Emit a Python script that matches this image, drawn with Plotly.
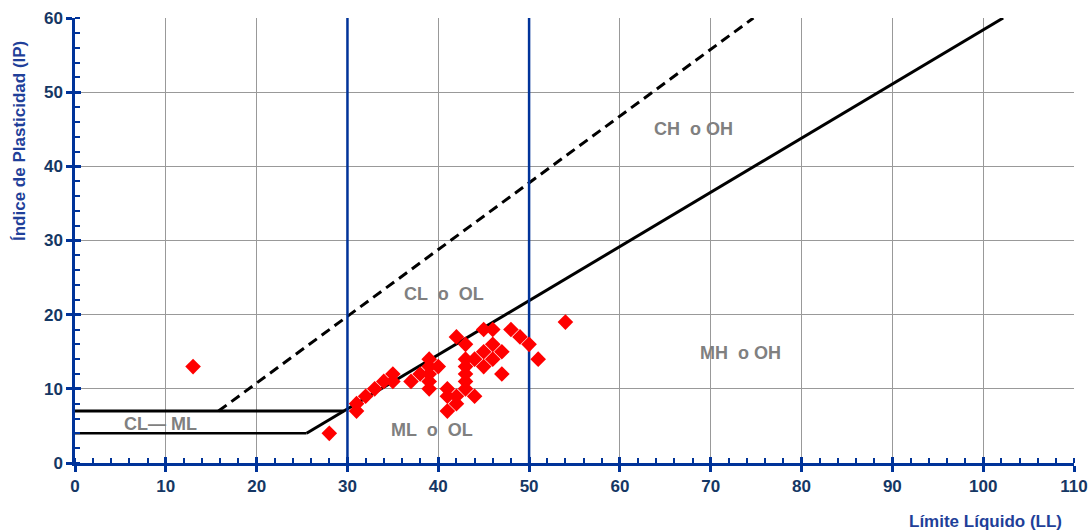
import plotly.graph_objects as go

# Sample data (Límite Líquido, Índice de Plasticidad)
LL = [13, 28, 31, 31, 32, 33, 34, 35, 35, 37, 38, 39, 39, 39, 39, 39, 40, 41, 41, 41,
      42, 42, 42, 43, 43, 43, 43, 43, 43, 44, 44, 45, 45, 45, 46, 46, 46, 47, 47, 48,
      49, 50, 51, 54]
IP = [13, 4, 8, 7, 9, 10, 11, 12, 11, 11, 12, 14, 13, 12, 11, 10, 13, 10, 9, 7,
      17, 9, 8, 16, 14, 13, 12, 11, 10, 14, 9, 18, 15, 13, 18, 16, 14, 15, 12, 18,
      17, 16, 14, 19]

# Reference lines of the plasticity chart
a_line_x = [25.5, 102.2]
a_line_y = [4, 60]
u_line_x = [15.8, 74.7]
u_line_y = [7, 60]
h7_x = [0, 29.6]
h7_y = [7, 7]
h4_x = [0, 25.5]
h4_y = [4, 4]
limit_x = [30, 50]

zone_labels = ["CH  o OH", "CL  o  OL", "MH  o OH", "ML  o  OL", "CL— ML"]
zone_x = [68.1, 40.6, 73.3, 39.3, 9.4]
zone_y = [45.1, 22.8, 14.8, 4.45, 5.3]

x_ticks = list(range(0, 111, 10))
y_ticks = list(range(0, 61, 10))

BLUE = "#003399"
NAVY = "#153764"
TITLE = "#1f3f99"
GRAY_TXT = "#808080"
FONT = "Liberation Sans"

L, R, T, B = 75, 18, 18, 68
W, H = 1092, 531
PW, PH = W - L - R, H - T - B

fig = go.Figure()

fig.add_trace(go.Scatter(x=h7_x, y=h7_y, mode="lines",
                         line=dict(color="black", width=3), showlegend=False, hoverinfo="skip"))
fig.add_trace(go.Scatter(x=h4_x, y=h4_y, mode="lines",
                         line=dict(color="black", width=2.5), showlegend=False, hoverinfo="skip"))
fig.add_trace(go.Scatter(x=a_line_x, y=a_line_y, mode="lines",
                         line=dict(color="black", width=3), showlegend=False, hoverinfo="skip"))
fig.add_trace(go.Scatter(x=u_line_x, y=u_line_y, mode="lines",
                         line=dict(color="black", width=3, dash="10px,6px"), showlegend=False, hoverinfo="skip"))
for xv in limit_x:
    fig.add_trace(go.Scatter(x=[xv, xv], y=[0, 60], mode="lines",
                             line=dict(color=BLUE, width=2.5), showlegend=False, hoverinfo="skip"))

fig.add_trace(go.Scatter(x=LL, y=IP, mode="markers",
                         marker=dict(symbol="diamond", size=12, color="#ff0000"),
                         showlegend=False))

for t, xv, yv in zip(zone_labels, zone_x, zone_y):
    fig.add_annotation(x=xv, y=yv, text=t, showarrow=False,
                       font=dict(family=FONT, size=18, color=GRAY_TXT, weight="bold"))

# axis titles (positions given in page pixels)
fig.add_annotation(x=(985 - L) / PW, y=-(521 - (T + PH)) / PH, xref="paper", yref="paper",
                   text="Límite Líquido (LL)", showarrow=False, xanchor="center", yanchor="middle",
                   font=dict(family=FONT, size=17, color=TITLE, weight="bold"))
fig.add_annotation(x=(19 - L) / PW, y=((T + PH) - 141) / PH, xref="paper", yref="paper",
                   text="Índice de Plasticidad (IP)", showarrow=False, textangle=-90,
                   xanchor="center", yanchor="middle",
                   font=dict(family=FONT, size=17, color=TITLE, weight="bold"))

axis_common = dict(showline=True, linecolor=BLUE, linewidth=2.5, automargin=False,
                   showgrid=True, gridcolor="#999999", gridwidth=1,
                   zeroline=False, ticks="outside", ticklen=6, tickwidth=2.5, tickcolor=BLUE,
                   tickfont=dict(family=FONT, size=17, color=NAVY, weight="bold"))

fig.update_layout(
    width=W, height=H,
    margin=dict(l=L, r=R, t=T, b=B, autoexpand=False),
    plot_bgcolor="white", paper_bgcolor="white",
    xaxis=dict(range=[0, 110], tickvals=x_ticks, **axis_common,
               minor=dict(dtick=2, ticks="inside", ticklen=5, tickwidth=2, tickcolor=BLUE, showgrid=False)),
    yaxis=dict(range=[0, 60], tickvals=y_ticks, **axis_common,
               minor=dict(dtick=2, ticks="inside", ticklen=5, tickwidth=2, tickcolor=BLUE, showgrid=False)),
    xaxis2=dict(range=[0, 110], overlaying="x", tickvals=x_ticks, ticks="inside", ticklen=6,
                tickwidth=2.5, tickcolor=BLUE, showticklabels=False, showgrid=False, automargin=False,
                showline=False, zeroline=False, side="bottom", anchor="y"),
    yaxis2=dict(range=[0, 60], overlaying="y", tickvals=y_ticks, ticks="inside", ticklen=6,
                tickwidth=2.5, tickcolor=BLUE, showticklabels=False, showgrid=False, automargin=False,
                showline=False, zeroline=False, side="left", anchor="x"),
)

# dummy trace to activate overlay axes
fig.add_trace(go.Scatter(x=[None], y=[None], xaxis="x2", yaxis="y2", showlegend=False))

fig.write_html("out.html", config={"displayModeBar": False},
               post_script="document.body.style.margin='0px';document.body.style.overflow='hidden';")
